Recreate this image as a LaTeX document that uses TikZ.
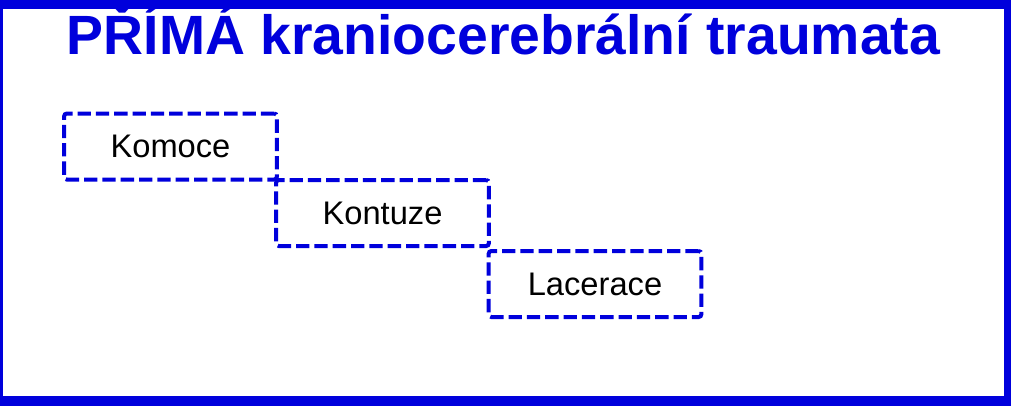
\documentclass[tikz,border=0pt]{standalone}
\usepackage{fontspec}
\setmainfont{Liberation Sans}
\definecolor{frameblue}{RGB}{0,0,220}
\tikzset{
  kindbox/.style={draw=frameblue, line width=3pt, dash pattern=on 10pt off 3.75pt,
    rounded corners=2pt, minimum width=159.5pt, minimum height=49.5pt,
    inner sep=0pt, font=\fontsize{24.5}{28}\selectfont, text=black},
  headline/.style={font=\fontsize{41.5}{46}\selectfont\bfseries, text=frameblue}
}
\begin{document}
\begin{tikzpicture}[x=0.75pt,y=-0.75pt]
% \useasboundingbox (0,0) rectangle (1011,406);
% Drawing the frame
\fill [frameblue] (0,0) rectangle (1011,406);
\fill [white] (3,9) rectangle (1004,396);

% Marking the title
\node [headline, anchor=base] (title) at (503.5,54) {PŘÍMÁ kraniocerebrální traumata};
% Redrawing the top of the frame over the accents
\fill [frameblue] (0,0) rectangle (1011,9);

% Marking the three kinds
\node [kindbox] (komoce) at (170.5,146.5) {Komoce};
\node [kindbox] (kontuze) at (382.5,213) {Kontuze};
\node [kindbox] (lacerace) at (595,284) {Lacerace};
\end{tikzpicture}
\end{document}
